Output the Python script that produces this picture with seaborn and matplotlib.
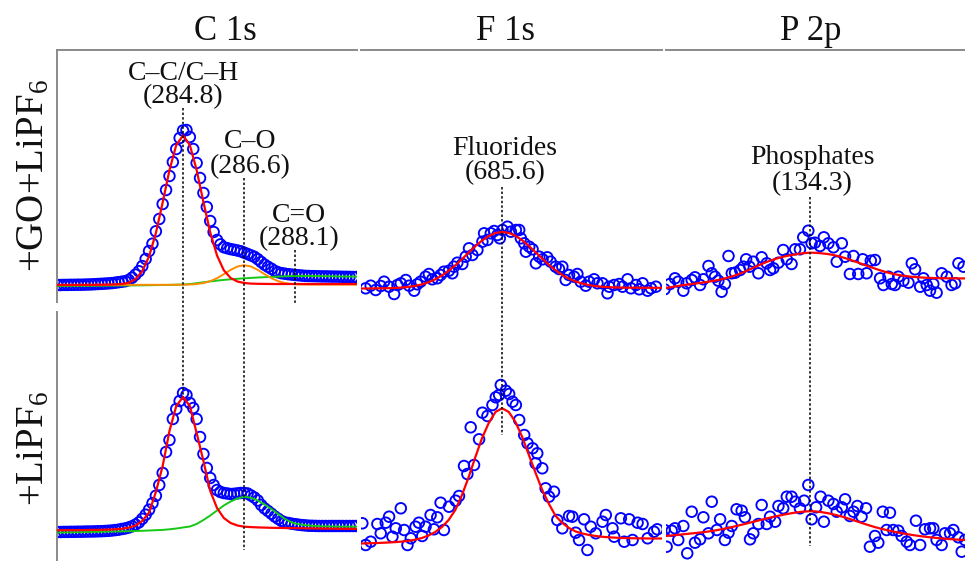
import numpy as np
import pandas as pd
import matplotlib
matplotlib.use("Agg")
import matplotlib.pyplot as plt
import matplotlib.transforms as mtransforms
import seaborn as sns

# ---------------------------------------------------------------- C 1s
C1S_SCAN_START, C1S_SCAN_STEP = 281.1, 0.1   # eV
C1S_FIT_START, C1S_FIT_STEP = 281.0, 0.2     # eV

# +GO+LiPF6, measured counts (a.u.)
c1s_go_counts = [
    17.0, 17.0, 17.1, 17.1, 17.2, 17.2, 17.3, 17.3, 17.4, 17.5,
    17.6, 17.8, 18.0, 18.2, 18.4, 18.6, 18.9, 19.3, 19.8, 20.3,
    20.8, 22.0, 24.3, 27.4, 30.8, 35.9, 43.0, 51.0, 58.3, 70.7,
    83.0, 98.0, 112.0, 126.0, 140.0, 153.0, 164.0, 171.5, 172.0, 165.0,
    153.0, 139.0, 124.0, 109.0, 95.0, 81.0, 70.0, 62.0, 57.6, 54.8,
    53.8, 52.9, 52.2, 51.5, 50.7, 49.3, 48.0, 46.6, 45.2, 42.8,
    40.0, 37.3, 35.2, 33.2, 31.1, 29.7, 28.8, 28.3, 27.8, 27.4,
    27.0, 26.7, 26.4, 26.1, 26.0, 25.9, 25.8, 25.7, 25.6, 25.6,
    25.5, 25.4, 25.4, 25.3, 25.2, 25.2, 25.1, 25.0, 25.0,
]
c1s_go_fit_cc = [
    17.0, 17.0, 17.0, 17.0, 17.1, 17.1, 17.2, 17.3, 17.4, 17.6,
    18.0, 19.2, 22.9, 30.8, 45.6, 68.9, 99.5, 131.8, 156.9, 166.5,
    157.0, 132.0, 100.0, 69.6, 46.5, 31.7, 24.0, 20.5, 19.0, 18.4,
    18.2, 18.1, 18.0, 18.0, 18.0, 18.0, 18.0, 18.0, 18.0, 18.0,
    18.0, 18.0, 18.0, 18.0, 18.0, 18.0,
]
c1s_go_fit_co = [
    17.2, 17.2, 17.2, 17.2, 17.2, 17.2, 17.2, 17.2, 17.2, 17.2,
    17.2, 17.2, 17.2, 17.2, 17.2, 17.2, 17.2, 17.2, 17.3, 17.3,
    17.5, 18.0, 18.9, 20.8, 23.8, 27.8, 32.1, 35.5, 36.8, 35.5,
    32.1, 27.8, 23.8, 20.8, 18.9, 18.0, 17.6, 17.5, 17.4, 17.4,
    17.4, 17.4, 17.4, 17.4, 17.4, 17.4,
]
c1s_go_fit_c_dbl_o = [
    16.0, 16.0, 16.1, 16.1, 16.2, 16.2, 16.3, 16.3, 16.4, 16.4,
    16.5, 16.5, 16.6, 16.7, 16.8, 16.9, 17.0, 17.1, 17.3, 17.5,
    18.0, 18.8, 19.7, 20.6, 21.4, 22.1, 22.7, 23.2, 23.7, 24.1,
    24.5, 24.8, 25.1, 25.4, 25.7, 25.9, 26.0, 26.0, 26.0, 25.9,
    25.8, 25.7, 25.6, 25.5, 25.4, 25.3,
]

# +LiPF6
c1s_counts = [
    29.0, 29.0, 29.1, 29.1, 29.2, 29.2, 29.3, 29.3, 29.4, 29.5,
    29.5, 29.6, 29.7, 29.8, 30.0, 30.2, 30.5, 30.9, 31.3, 32.0,
    32.6, 33.5, 34.7, 36.4, 38.6, 42.2, 46.3, 51.3, 57.8, 65.2,
    76.0, 88.0, 109.0, 121.0, 142.0, 152.0, 160.0, 168.0, 166.0, 158.0,
    153.0, 142.0, 124.0, 107.0, 93.0, 83.0, 76.0, 71.0, 69.0, 68.0,
    67.5, 67.0, 67.2, 67.6, 68.0, 68.0, 67.5, 65.5, 63.5, 60.5,
    56.0, 52.6, 50.0, 47.3, 44.5, 42.2, 40.0, 38.6, 38.0, 37.3,
    36.8, 36.3, 35.9, 35.6, 35.3, 35.2, 35.1, 35.0, 35.0, 35.0,
    35.0, 35.0, 35.0, 35.0, 35.0, 35.0, 35.0, 35.0, 35.0,
]
c1s_fit_cc = [
    30.8, 30.8, 30.8, 30.9, 30.9, 31.0, 31.1, 31.2, 31.4, 31.7,
    32.2, 33.3, 35.5, 40.0, 48.5, 69.0, 95.0, 130.0, 155.0, 164.0,
    155.0, 128.0, 100.0, 70.0, 53.0, 43.0, 38.0, 35.5, 34.3, 33.9,
    33.6, 33.4, 33.2, 33.1, 33.0, 32.9, 32.8, 32.7, 32.6, 32.5,
    32.4, 32.3, 32.2, 32.2, 32.1, 32.1,
]
c1s_fit_co = [
    28.4, 28.5, 28.6, 28.7, 28.8, 29.0, 29.1, 29.2, 29.4, 29.5,
    29.6, 29.8, 30.0, 30.2, 30.5, 30.8, 31.1, 31.7, 32.5, 33.5,
    34.5, 37.0, 41.0, 45.5, 50.5, 55.5, 59.5, 62.5, 64.3, 63.2,
    60.5, 56.5, 52.0, 47.0, 42.0, 38.5, 36.8, 35.8, 35.2, 34.8,
    34.6, 34.5, 34.4, 34.4, 34.3, 34.3,
]

# ---------------------------------------------------------------- F 1s
F1S_FIT_START, F1S_FIT_STEP = 681.4, 0.2

f1s_go_energy = [
    681.52, 681.67, 681.82, 681.97, 682.07, 682.22, 682.37, 682.47, 682.57, 682.72,
    682.82, 682.97, 683.06, 683.16, 683.31, 683.41, 683.51, 683.66, 683.76, 683.86,
    684.01, 684.11, 684.16, 684.26, 684.41, 684.51, 684.61, 684.71, 684.86, 685.01,
    685.06, 685.16, 685.26, 685.36, 685.46, 685.53, 685.61, 685.76, 685.86, 686.01,
    686.11, 686.16, 686.26, 686.31, 686.41, 686.51, 686.61, 686.71, 686.81, 686.95,
    687.05, 687.20, 687.30, 687.40, 687.50, 687.60, 687.75, 687.85, 687.95, 688.10,
    688.20, 688.35, 688.45, 688.60, 688.75, 688.80, 688.95, 689.10, 689.20, 689.35,
    689.45, 689.60, 689.70, 689.80, 689.95, 690.05, 690.20,
]
f1s_go_counts = [
    13.7, 16.3, 12.0, 16.0, 20.3, 15.3, 8.0, 17.0, 18.7, 22.0,
    16.3, 11.3, 17.7, 20.3, 25.3, 28.0, 22.7, 23.7, 27.0, 30.3,
    31.3, 28.7, 35.3, 39.3, 38.0, 45.3, 53.7, 47.0, 52.0, 60.3,
    68.7, 62.0, 68.7, 71.0, 67.0, 63.7, 72.0, 75.3, 70.3, 72.0,
    72.0, 63.7, 58.7, 50.3, 55.3, 52.7, 38.7, 45.3, 42.7, 44.7,
    40.3, 35.3, 33.0, 35.3, 22.0, 27.0, 25.3, 28.0, 20.3, 16.3,
    20.3, 22.7, 18.7, 18.7, 8.7, 15.3, 17.0, 18.0, 15.3, 22.7,
    13.7, 17.0, 12.7, 18.7, 11.3, 13.7, 15.3,
]
f1s_go_fit = [
    13.5, 13.5, 13.6, 13.7, 13.8, 14.0, 14.5, 15.1, 16.1, 17.6,
    19.8, 22.7, 26.5, 31.2, 36.7, 42.9, 49.4, 55.8, 61.5, 66.0,
    69.0, 70.0, 69.1, 66.2, 61.7, 56.0, 49.7, 43.3, 37.1, 31.7,
    27.0, 23.3, 20.5, 18.4, 16.9, 15.9, 15.2, 14.8, 14.5, 14.4,
    14.3, 14.3, 14.2, 14.2, 14.2, 14.2,
]

f1s_energy = [
    681.42, 681.52, 681.67, 681.87, 681.97, 682.12, 682.22, 682.32, 682.42, 682.57,
    682.67, 682.77, 682.87, 683.01, 683.11, 683.21, 683.31, 683.46, 683.56, 683.66,
    683.76, 683.86, 684.01, 684.21, 684.31, 684.46, 684.56, 684.66, 684.76, 684.91,
    685.01, 685.16, 685.31, 685.41, 685.51, 685.56, 685.71, 685.81, 685.91, 686.01,
    686.11, 686.26, 686.36, 686.51, 686.65, 686.60, 686.80, 686.90, 687.00, 687.15,
    687.25, 687.40, 687.60, 687.70, 687.80, 687.90, 688.05, 688.15, 688.25, 688.40,
    688.60, 688.70, 688.90, 688.95, 689.15, 689.25, 689.40, 689.50, 689.65, 689.80,
    689.95, 690.14, 690.24,
]
f1s_counts = [
    37.7, 16.0, 19.3, 37.0, 27.7, 38.3, 44.3, 24.3, 32.7, 52.7,
    31.0, 16.0, 22.7, 34.3, 38.3, 25.0, 34.3, 46.0, 31.7, 43.7,
    58.3, 31.0, 54.3, 60.3, 65.0, 95.0, 87.0, 133.7, 96.0, 121.7,
    148.3, 145.0, 156.0, 163.7, 166.0, 176.0, 170.3, 167.0, 159.3, 156.0,
    141.0, 126.0, 117.7, 112.7, 107.7, 97.7, 92.7, 72.7, 64.3, 69.3,
    41.0, 32.7, 45.0, 44.3, 28.3, 21.0, 41.7, 11.0, 34.3, 27.7,
    39.3, 46.0, 32.7, 24.3, 42.7, 19.3, 41.7, 21.0, 38.3, 37.0,
    22.7, 29.3, 31.7,
]
f1s_fit = [
    17.5, 17.7, 17.9, 18.2, 18.5, 18.9, 19.4, 20.2, 21.3, 23.0,
    25.5, 29.0, 34.0, 41.0, 51.0, 66.0, 84.0, 104.0, 123.0, 138.0,
    149.0, 152.7, 149.0, 139.0, 124.0, 106.0, 88.0, 71.0, 57.0, 45.0,
    38.0, 33.0, 29.5, 27.5, 26.0, 25.0, 24.2, 23.7, 23.3, 23.0,
    22.8, 22.7, 22.6, 22.5, 22.5, 22.5,
]

# ---------------------------------------------------------------- P 2p
P2P_FIT_START, P2P_FIT_STEP = 129.5, 0.2

p2p_go_energy = [
    129.45, 129.63, 129.80, 129.91, 130.08, 130.19, 130.36, 130.47, 130.64, 130.75,
    130.92, 131.03, 131.14, 131.25, 131.36, 131.47, 131.59, 131.70, 131.81, 131.98,
    132.09, 132.18, 132.29, 132.42, 132.59, 132.70, 132.87, 132.98, 133.09, 133.26,
    133.42, 133.54, 133.70, 133.82, 133.98, 134.09, 134.26, 134.37, 134.48, 134.65,
    134.78, 134.93, 135.10, 135.21, 135.38, 135.49, 135.65, 135.77, 135.93, 136.08,
    136.21, 136.35, 136.49, 136.66, 136.77, 136.94, 137.05, 137.16, 137.27, 137.44,
    137.61, 137.72, 137.83, 138.00, 138.11, 138.22, 138.33, 138.44, 138.55, 138.72,
    138.89, 139.05, 139.17, 139.28, 139.45,
]
p2p_go_counts = [
    12.7, 18.0, 23.7, 20.3, 11.3, 18.7, 22.0, 24.7, 17.0, 22.7,
    36.0, 28.7, 25.3, 21.3, 10.3, 18.0, 46.0, 28.7, 29.3, 32.0,
    35.3, 42.7, 35.3, 40.3, 28.7, 44.7, 38.7, 32.0, 33.7, 39.3,
    52.0, 42.7, 38.0, 52.7, 52.7, 64.7, 71.3, 58.7, 59.3, 56.0,
    64.7, 58.7, 54.7, 40.3, 58.7, 45.3, 28.0, 46.0, 28.0, 42.7,
    28.7, 41.3, 42.0, 23.7, 17.0, 25.3, 18.0, 17.0, 25.3, 21.3,
    19.3, 38.7, 32.7, 15.3, 23.7, 17.0, 11.3, 18.0, 9.3, 28.7,
    25.3, 17.0, 18.7, 38.7, 35.3,
]
p2p_go_fit = [
    14.0, 15.0, 16.0, 17.0, 17.7, 18.5, 19.3, 20.2, 21.2, 22.4,
    23.8, 25.5, 27.5, 29.9, 32.6, 35.3, 38.0, 40.4, 42.5, 44.3,
    45.8, 47.0, 48.0, 48.8, 49.3, 49.2, 48.7, 48.0, 47.0, 45.6,
    43.8, 41.8, 39.7, 37.5, 35.4, 33.3, 31.3, 29.6, 28.1, 26.9,
    26.0, 25.3, 24.8, 24.4, 24.1, 23.9, 23.8, 23.7, 23.7, 23.6,
    23.6,
]

p2p_energy = [
    129.45, 129.52, 129.69, 129.80, 129.91, 130.08, 130.21, 130.36, 130.47, 130.64,
    130.75, 130.92, 131.03, 131.20, 131.31, 131.47, 131.59, 131.70, 131.86, 132.03,
    132.14, 132.31, 132.42, 132.59, 132.70, 132.87, 132.98, 133.15, 133.26, 133.42,
    133.54, 133.70, 133.82, 133.98, 134.12, 134.26, 134.37, 134.52, 134.67, 134.78,
    134.93, 135.10, 135.21, 135.38, 135.49, 135.65, 135.77, 135.90, 136.04, 136.19,
    136.32, 136.49, 136.60, 136.75, 136.88, 136.99, 137.10, 137.27, 137.38, 137.55,
    137.66, 137.86, 138.00, 138.16, 138.33, 138.44, 138.55, 138.72, 138.83, 139.00,
    139.11, 139.28, 139.39, 139.50,
]
p2p_counts = [
    31.0, 14.3, 30.3, 32.7, 21.0, 35.0, 7.7, 49.3, 18.3, 21.7,
    43.7, 27.7, 59.3, 31.0, 41.7, 21.0, 28.3, 35.0, 51.7, 50.3,
    43.7, 21.7, 27.7, 37.0, 56.0, 37.0, 44.3, 39.3, 55.0, 52.7,
    64.3, 64.3, 59.3, 52.7, 60.3, 76.0, 41.7, 53.7, 64.3, 39.3,
    60.3, 57.0, 49.3, 53.7, 61.7, 45.0, 49.3, 55.0, 44.3, 52.7,
    14.3, 25.0, 18.3, 49.3, 31.0, 48.3, 31.0, 30.3, 25.0, 19.3,
    16.0, 40.3, 16.0, 31.7, 32.7, 32.7, 21.0, 16.0, 27.7, 27.7,
    31.0, 23.7, 9.3, 21.0,
]
p2p_fit = [
    25.0, 25.6, 26.2, 26.8, 27.4, 28.0, 28.7, 29.4, 30.3, 31.4,
    32.6, 33.9, 35.3, 36.8, 38.3, 39.8, 41.3, 42.8, 44.2, 45.5,
    46.7, 47.8, 48.7, 49.4, 49.8, 49.6, 48.9, 47.9, 46.6, 45.1,
    43.4, 41.5, 39.5, 37.5, 35.6, 33.8, 32.2, 30.8, 29.5, 28.3,
    27.2, 26.2, 25.3, 24.5, 23.8, 23.2, 22.6, 22.1, 21.7, 21.3,
    21.0,
]

# ---------------------------------------------------------------- labels
col_titles = ["C 1s", "F 1s", "P 2p"]
row_labels = ["+GO+LiPF$_{\\mathrm{6}}$", "+LiPF$_{\\mathrm{6}}$"]
c1s_peaks = [("C\u2013C/C\u2013H", 284.8), ("C\u2013O", 286.6), ("C=O", 288.1)]
f1s_peaks = [("Fluorides", 685.6)]
p2p_peaks = [("Phosphates", 134.3)]

# ---------------------------------------------------------------- style
sns.set_theme(style="white")
plt.rcParams["font.family"] = ["Liberation Serif", "DejaVu Serif"]
plt.rcParams["mathtext.fontset"] = "custom"
plt.rcParams["mathtext.rm"] = "Liberation Serif"
plt.rcParams["mathtext.it"] = "Liberation Serif:italic"

BLUE, RED, GREEN, ORANGE = "#0000ff", "#ff0000", "#14c814", "#ff8c00"
SPINE = "#8a8a8a"

W, H = 965, 561
fig = plt.figure(figsize=(W / 100, H / 100), dpi=100)
col_px = [(57, 357), (361, 662), (666, 965)]
row_px = [(50, 302), (312, 561)]


def scan_axis(start, step, n):
    return np.round(start + step * np.arange(n), 2)


def draw_counts(ax, energy, counts):
    df = pd.DataFrame({"energy": energy, "counts": counts})
    sns.scatterplot(data=df, x="energy", y="counts", ax=ax, marker="o", s=58,
                    facecolor="none", edgecolor=BLUE, linewidth=1.35,
                    legend=False, zorder=2)


def draw_fit(ax, energy, values, color, lw=1.6):
    df = pd.DataFrame({"energy": energy, "counts": values})
    sns.lineplot(data=df, x="energy", y="counts", ax=ax, color=color,
                 linewidth=lw, estimator=None, sort=False, legend=False,
                 zorder=3)


axes = []
for r, (top, bot) in enumerate(row_px):
    row = []
    for c, (left, right) in enumerate(col_px):
        ax = fig.add_axes([left / W, 1 - bot / H, (right - left) / W, (bot - top) / H])
        ax.patch.set_visible(False)
        ax.set_zorder(3 if r == 0 else 1)
        row.append(ax)
    axes.append(row)

c_scan = scan_axis(C1S_SCAN_START, C1S_SCAN_STEP, len(c1s_go_counts))
c_fit = scan_axis(C1S_FIT_START, C1S_FIT_STEP, len(c1s_go_fit_cc))
f_fit = scan_axis(F1S_FIT_START, F1S_FIT_STEP, len(f1s_fit))
p_fit = scan_axis(P2P_FIT_START, P2P_FIT_STEP, len(p2p_fit))

# C 1s
draw_counts(axes[0][0], c_scan, c1s_go_counts)
draw_fit(axes[0][0], c_fit, c1s_go_fit_c_dbl_o, GREEN, 1.4)
draw_fit(axes[0][0], c_fit, c1s_go_fit_co, ORANGE, 1.4)
draw_fit(axes[0][0], c_fit, c1s_go_fit_cc, RED)
draw_counts(axes[1][0], c_scan, c1s_counts)
draw_fit(axes[1][0], c_fit, c1s_fit_co, GREEN, 1.4)
draw_fit(axes[1][0], c_fit, c1s_fit_cc, RED)
# F 1s
draw_counts(axes[0][1], f1s_go_energy, f1s_go_counts)
draw_fit(axes[0][1], f_fit, f1s_go_fit, RED)
draw_counts(axes[1][1], f1s_energy, f1s_counts)
draw_fit(axes[1][1], f_fit, f1s_fit, RED)
# P 2p
draw_counts(axes[0][2], p2p_go_energy, p2p_go_counts)
draw_fit(axes[0][2], p_fit, p2p_go_fit, RED)
draw_counts(axes[1][2], p2p_energy, p2p_counts)
draw_fit(axes[1][2], p_fit, p2p_fit, RED)

xlims = [(281.09, 289.92), (681.38, 690.38), (129.5, 139.5)]
ylims = [(0, 252), (0, 249)]
for r in range(2):
    for c in range(3):
        ax = axes[r][c]
        ax.set_xlim(*xlims[c])
        ax.set_ylim(*ylims[r])
        ax.set_xticks([])
        ax.set_yticks([])
        ax.set_xlabel("")
        ax.set_ylabel("")
        for name, sp in ax.spines.items():
            sp.set_color(SPINE)
            sp.set_linewidth(1.4)
            sp.set_visible((name == "top" and r == 0) or (name == "left" and c == 0))

# peak annotations on the upper row, dotted guides running through both rows
# (axes, peak, name baseline, value baseline, guide top, guide bottom, x shift pt)
peak_layout = [
    (axes[0][0], c1s_peaks[0], 0.881, 0.790, 0.770, -0.377, 0.0),
    (axes[0][0], c1s_peaks[1], 0.611, 0.513, 0.492, -0.984, 4.3),
    (axes[0][0], c1s_peaks[2], 0.319, 0.226, 0.206, -0.012, 2.5),
    (axes[0][1], f1s_peaks[0], 0.583, 0.486, 0.456, -0.528, 2.0),
    (axes[0][2], p2p_peaks[0], 0.548, 0.442, 0.417, -0.968, 1.8),
]
for ax, (name, energy), y_name, y_val, g_top, g_bot, dx in peak_layout:
    for text, yy in ((name, y_name), (f"({energy:.1f})", y_val)):
        ax.annotate(text, xy=(energy, yy), xycoords=("data", "axes fraction"),
                    xytext=(dx, 0), textcoords="offset points",
                    ha="center", va="baseline", fontsize=20, color="#111111",
                    annotation_clip=False)
    trans = mtransforms.blended_transform_factory(ax.transData, ax.transAxes)
    ax.plot([energy, energy], [g_top, g_bot], transform=trans, color="black",
            linewidth=1.1, linestyle=(0, (1.6, 1.4)), clip_on=False, zorder=6)

# column titles and row labels
for title, xc in zip(col_titles, [225, 506, 811]):
    fig.text(xc / W, 1 - 40 / H, title, ha="center", va="baseline",
             fontsize=25, color="#111111")
for label, yc in zip(row_labels, [176, 449]):
    fig.text(34 / W, 1 - yc / H, label, rotation=90, ha="center", va="center",
             fontsize=28, color="#111111")

fig.savefig("out.png", dpi=100)
